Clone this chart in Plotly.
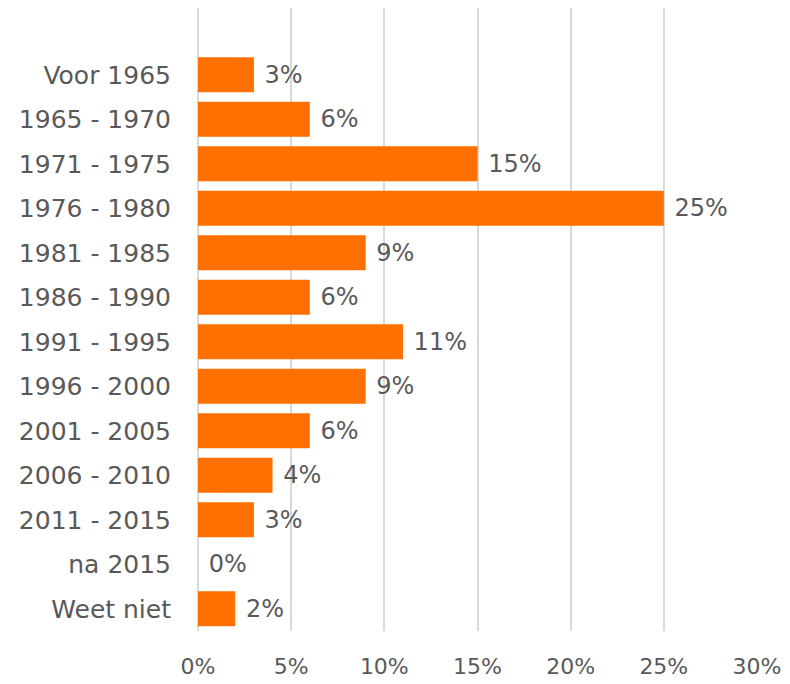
import plotly.graph_objects as go

categories = ["Voor 1965", "1965 - 1970", "1971 - 1975", "1976 - 1980", "1981 - 1985",
              "1986 - 1990", "1991 - 1995", "1996 - 2000", "2001 - 2005", "2006 - 2010",
              "2011 - 2015", "na 2015", "Weet niet"]
values = [3, 6, 15, 25, 9, 6, 11, 9, 6, 4, 3, 0, 2]
x_ticks = [0, 5, 10, 15, 20, 25, 30]
x_tick_labels = ["0%", "5%", "10%", "15%", "20%", "25%", "30%"]

FONT = "DejaVu Sans"
GRAY = "#595959"

fig = go.Figure(go.Bar(
    x=values, y=categories, orientation="h",
    marker=dict(color="#FF7000", line=dict(width=0)),
    width=0.79,
    text=[f" {v}%" for v in values],
    textposition="outside",
    constraintext="none",
    cliponaxis=False,
    textfont=dict(family=FONT, size=24, color=GRAY),
    hoverinfo="skip",
))

# page body has an 8px default margin, so margins are compensated
fig.update_layout(
    width=790, height=684,
    margin=dict(l=190, r=41, t=0, b=61, autoexpand=False),
    paper_bgcolor="white", plot_bgcolor="white",
    showlegend=False,
    font=dict(family=FONT, size=23, color=GRAY),
)
fig.update_xaxes(
    range=[0, 30], tickvals=x_ticks, ticktext=x_tick_labels,
    showgrid=True, gridcolor="#D9D9D9", gridwidth=2,
    zeroline=True, zerolinecolor="#D9D9D9", zerolinewidth=2,
    showline=False, ticks="", ticklabelstandoff=20, automargin=False,
    tickfont=dict(family=FONT, size=22, color=GRAY),
)
fig.update_yaxes(
    type="category", categoryorder="array", categoryarray=categories,
    range=[12.5, -1.5],
    showgrid=False, zeroline=False, showline=False, ticks="",
    ticklabelstandoff=26, automargin=False,
    tickfont=dict(family=FONT, size=25, color=GRAY),
)

fig.write_html("out.html")
